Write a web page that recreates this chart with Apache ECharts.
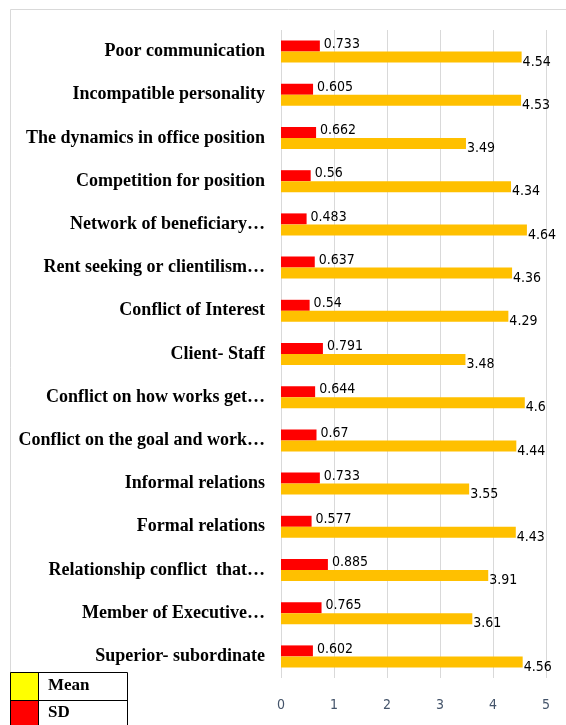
<!DOCTYPE html>
<html>
<head>
<meta charset="utf-8">
<script src="https://cdn.jsdelivr.net/npm/echarts@6/dist/echarts.min.js"></script>
<style>
  html, body { margin: 0; padding: 0; background: #fff; }
  #chart { width: 566px; height: 725px; }
</style>
</head>
<body>
<div id="chart"></div>
<script>
var categories = [
  'Poor communication',
  'Incompatible personality',
  'The dynamics in office position',
  'Competition for position',
  'Network of beneficiary\u2026',
  'Rent seeking or clientilism\u2026',
  'Conflict of Interest',
  'Client- Staff',
  'Conflict on how works get\u2026',
  'Conflict on the goal and work\u2026',
  'Informal relations',
  'Formal relations',
  'Relationship conflict  that\u2026',
  'Member of Executive\u2026',
  'Superior- subordinate'
];
var meanValues = [4.54, 4.53, 3.49, 4.34, 4.64, 4.36, 4.29, 3.48, 4.6, 4.44, 3.55, 4.43, 3.91, 3.61, 4.56];
var sdValues = [0.733, 0.605, 0.662, 0.56, 0.483, 0.637, 0.54, 0.791, 0.644, 0.67, 0.733, 0.577, 0.885, 0.765, 0.602];
var xTicks = [0, 1, 2, 3, 4, 5];

var chart = echarts.init(document.getElementById('chart'));

var labelFont = 'DejaVu Sans Condensed, Liberation Sans, sans-serif';

chart.setOption({
  backgroundColor: '#fff',
  animation: false,
  grid: { left: 281, right: 20, top: 30, bottom: 47, containLabel: false },
  xAxis: {
    type: 'value',
    min: xTicks[0],
    max: xTicks[xTicks.length - 1],
    interval: 1,
    axisLine: { show: false },
    axisTick: { show: false },
    splitLine: { lineStyle: { color: '#d9d9d9', width: 1 } },
    axisLabel: { color: '#44546a', fontFamily: labelFont, fontSize: 14, margin: 20 }
  },
  yAxis: {
    type: 'category',
    data: categories,
    inverse: true,
    axisLine: { show: false },
    axisTick: { show: false },
    axisLabel: {
      color: '#000',
      fontFamily: 'Liberation Serif, Times New Roman, serif',
      fontWeight: 'bold',
      fontSize: 18,
      margin: 16
    }
  },
  series: [
    {
      name: 'SD',
      type: 'bar',
      data: sdValues,
      barWidth: 11,
      barGap: '0%',
      itemStyle: { color: '#ff0000' },
      label: {
        show: true, position: 'right', distance: 4, offset: [0, -2],
        color: '#000', fontFamily: labelFont, fontSize: 14
      }
    },
    {
      name: 'Mean',
      type: 'bar',
      data: meanValues,
      barWidth: 11,
      barGap: '0%',
      itemStyle: { color: '#ffc000' },
      label: {
        show: true, position: 'right', distance: 1, offset: [0, 5],
        color: '#000', fontFamily: labelFont, fontSize: 14
      }
    }
  ],
  graphic: [
    { type: 'rect', shape: { x: 10.5, y: 9.5, width: 600, height: 800 },
      style: { fill: null, stroke: '#d9d9d9', lineWidth: 1 }, silent: true },
    { type: 'rect', shape: { x: 10, y: 672, width: 28, height: 28 }, style: { fill: '#ffff00' } },
    { type: 'rect', shape: { x: 10, y: 700, width: 28, height: 30 }, style: { fill: '#ff0000' } },
    { type: 'rect', shape: { x: 10.5, y: 672.5, width: 117, height: 60 },
      style: { fill: null, stroke: '#000', lineWidth: 1 } },
    { type: 'line', shape: { x1: 38.5, y1: 672, x2: 38.5, y2: 730 }, style: { stroke: '#000', lineWidth: 1 } },
    { type: 'line', shape: { x1: 10, y1: 700.5, x2: 128, y2: 700.5 }, style: { stroke: '#000', lineWidth: 1 } },
    { type: 'text', x: 48, y: 686, style: { text: 'Mean', fill: '#000', font: 'bold 17px Liberation Serif, serif', verticalAlign: 'middle' } },
    { type: 'text', x: 48, y: 713, style: { text: 'SD', fill: '#000', font: 'bold 17px Liberation Serif, serif', verticalAlign: 'middle' } }
  ]
});
</script>
</body>
</html>
